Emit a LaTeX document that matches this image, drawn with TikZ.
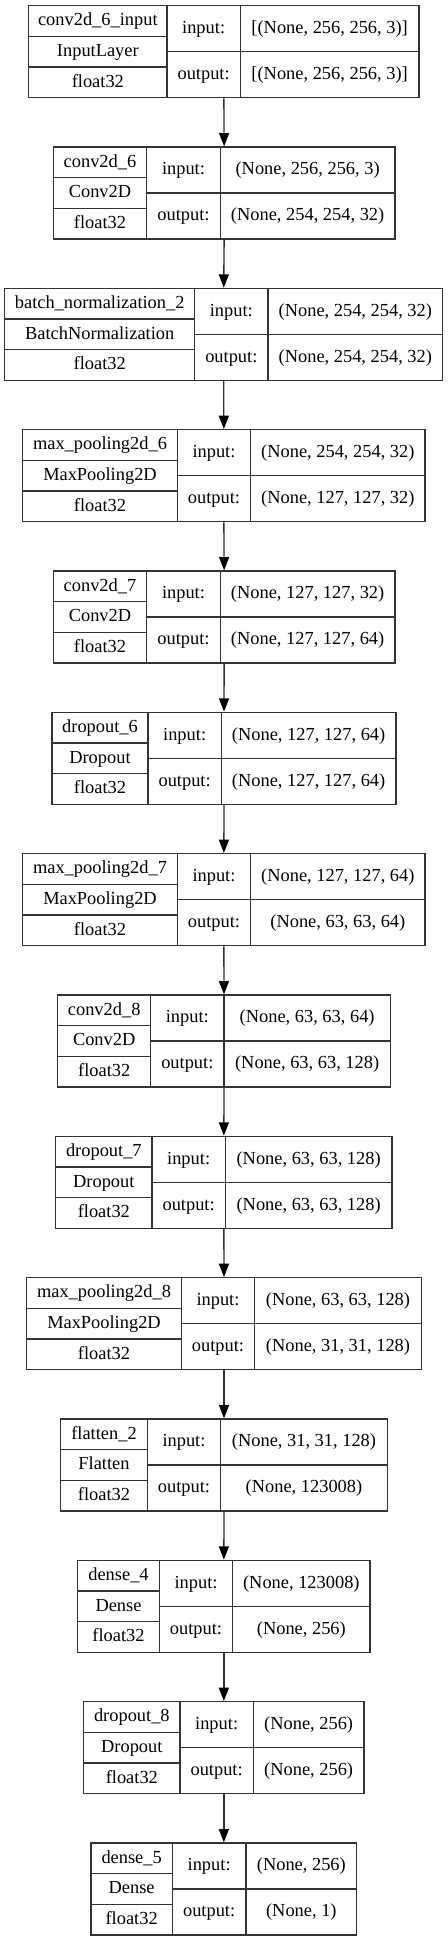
\documentclass[tikz,border=0pt]{standalone}
\usepackage{fontspec}
\setmainfont{Liberation Serif}
\usetikzlibrary{arrows.meta}
\begin{document}
\begin{tikzpicture}[x=0.75pt,y=-0.75pt,
  ln/.style={draw=black!80, line width=1pt},
  lbl/.style={anchor=base, inner sep=0pt, font=\fontsize{13.8}{16}\selectfont},
  arr/.style={draw=black!80, line width=1pt, -{Triangle[length=10pt,width=7.5pt,color=black]}}]
\useasboundingbox (0,0) rectangle (448,1941);
\foreach \i/\vL/\da/\db/\vR/\na/\cl/\vin/\vout in {
 1/28.7/167/240.3/419/conv2d\_6\_input/InputLayer/{[(None, 256, 256, 3)]}/{[(None, 256, 256, 3)]},
 2/53.3/146.7/220.3/395/conv2d\_6/Conv2D/{(None, 256, 256, 3)}/{(None, 254, 254, 32)},
 3/4.7/194.7/268/442.7/batch\_normalization\_2/BatchNormalization/{(None, 254, 254, 32)}/{(None, 254, 254, 32)},
 4/22.7/177.3/250.7/425/max\_pooling2d\_6/MaxPooling2D/{(None, 254, 254, 32)}/{(None, 127, 127, 32)},
 5/53.3/146.7/220.3/395/conv2d\_7/Conv2D/{(None, 127, 127, 32)}/{(None, 127, 127, 64)},
 6/52/148/221.3/396/dropout\_6/Dropout/{(None, 127, 127, 64)}/{(None, 127, 127, 64)},
 7/22.7/177.3/250.7/425/max\_pooling2d\_7/MaxPooling2D/{(None, 127, 127, 64)}/{(None, 63, 63, 64)},
 8/57.7/150.7/224/390.3/conv2d\_8/Conv2D/{(None, 63, 63, 64)}/{(None, 63, 63, 128)},
 9/55.7/152/225.3/392/dropout\_7/Dropout/{(None, 63, 63, 128)}/{(None, 63, 63, 128)},
 10/26.7/181.3/254.7/421.3/max\_pooling2d\_8/MaxPooling2D/{(None, 63, 63, 128)}/{(None, 31, 31, 128)},
 11/60.7/147.3/220.7/387.3/flatten\_2/Flatten/{(None, 31, 31, 128)}/{(None, 123008)},
 12/77.7/159.3/232.7/370/dense\_4/Dense/{(None, 123008)}/{(None, 256)},
 13/83.7/180/253.3/364/dropout\_8/Dropout/{(None, 256)}/{(None, 256)},
 14/91/172.3/246/356.7/dense\_5/Dense/{(None, 256)}/{(None, 1)}}
{
  \pgfmathsetmacro\ty{5.7+141.33*(\i-1)}
  \node[ln, inner sep=0pt, minimum width={(\vR-\vL)*0.75pt}, minimum height={92*0.75pt}] (L\i) at ({(\vL+\vR)/2},{\ty+46}) {};
  \draw[ln] (\da,\ty) -- (\da,\ty+92)
            (\db,\ty) -- (\db,\ty+92)
            (\vL,\ty+30.67) -- (\da,\ty+30.67)
            (\vL,\ty+61.33) -- (\da,\ty+61.33)
            (\da,\ty+46) -- (\vR,\ty+46);
  \node[lbl] (na\i) at ({(\vL+\da)/2},\ty+20.1) {\na};
  \node[lbl] (cl\i) at ({(\vL+\da)/2},\ty+50.8) {\cl};
  \node[lbl] (ft\i) at ({(\vL+\da)/2},\ty+81.5) {float32};
  \node[lbl] (ia\i) at ({(\da+\db)/2},\ty+27.8) {input:};
  \node[lbl] (oa\i) at ({(\da+\db)/2},\ty+73.8) {output:};
  \node[lbl] (iv\i) at ({(\db+\vR)/2},\ty+27.8) {\vin};
  \node[lbl] (ov\i) at ({(\db+\vR)/2},\ty+73.8) {\vout};
}
\foreach \i [evaluate=\i as \j using int(\i+1)] in {1,...,13}
  \draw[arr] (L\i.south) -- (L\j.north);
\end{tikzpicture}
\end{document}
